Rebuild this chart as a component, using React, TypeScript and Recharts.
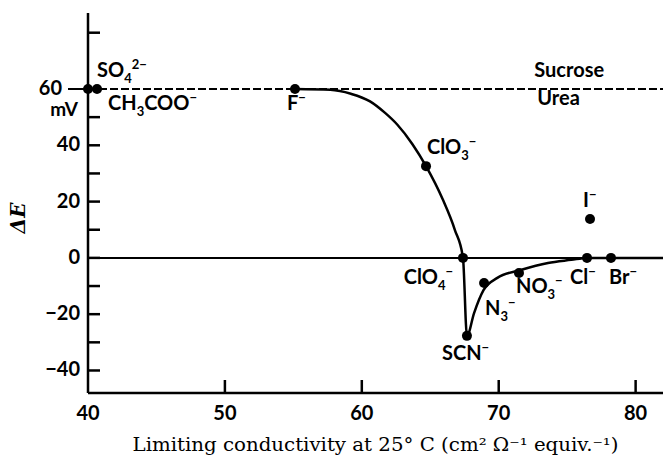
import React from "react";
import { ComposedChart, Line, Scatter, XAxis, YAxis, ReferenceLine } from "recharts";

// Ion points (ΔE vs limiting conductivity)
const ionLabels = ["CH_3COO^−", "SO_4^2−", "F^−", "ClO_3^−", "I^−", "ClO_4^−", "SCN^−", "N_3^−", "NO_3^−", "Cl^−", "Br^−"];
const ionX = [40.0, 40.66, 55.12, 64.69, 76.67, 67.39, 67.68, 68.93, 71.48, 76.45, 78.2];
const ionY = [60, 60, 60, 32.6, 13.8, 0, -27.7, -8.9, -5.4, 0, 0];

// Smooth curve through the anions
const curveX = [55.12, 57.7, 59.2, 60.6, 61.7, 62.6, 63.7, 64.69, 65.9, 66.8, 67.39, 67.68, 68.2, 68.9, 69.9, 71.6, 73.6, 75.3, 76.45, 82];
const curveY = [60, 59.7, 58.3, 55.6, 51.5, 47.3, 40.4, 32.6, 20.9, 9.9, 0, -27.7, -19.6, -11.4, -7.1, -4.3, -1.8, -0.7, 0, 0];

// Non-electrolytes on the dashed line
const neutralNames = ["Sucrose", "Urea"];
const neutralX = 72.6;
const neutralY = 60;

const xTicks = [40, 50, 60, 70, 80];
const yTicks = [-40, -30, -20, -10, 0, 10, 20, 30, 40, 50, 60, 80];
const yLabelled = [-40, -20, 0, 20, 40, 60];

const ionData = ionLabels.map((name, i) => ({ name, x: ionX[i], y: ionY[i] }));
const curveData = curveX.map((x, i) => ({ x, y: curveY[i] }));
const neutralData = [{ x: neutralX, y: neutralY }];

const SANS = "Lato, 'Noto Sans', sans-serif";
const SERIF = "'DejaVu Serif', 'Liberation Serif', serif";

// label placement (px offsets from the dot)
const labelOffset: Record<string, [number, number, "start" | "end" | "middle"]> = {
  "CH_3COO^−": [20, 14, "start"],
  "SO_4^2−": [0, -19, "start"],
  "F^−": [-8, 14, "start"],
  "ClO_3^−": [1, -19, "start"],
  "I^−": [-7, -19, "start"],
  "ClO_4^−": [-10, 19, "end"],
  "SCN^−": [-25, 17, "start"],
  "N_3^−": [1, 25, "start"],
  "NO_3^−": [-3, 13, "start"],
  "Cl^−": [-17, 19, "start"],
  "Br^−": [-2, 19, "start"],
};

function Formula({ text, x, y, anchor }: { text: string; x: number; y: number; anchor: string }) {
  const segs: { t: string; k: "n" | "b" | "p" }[] = [];
  let buf = "";
  let i = 0;
  while (i < text.length) {
    const c = text[i];
    if (c === "_") {
      if (buf) segs.push({ t: buf, k: "n" });
      buf = "";
      segs.push({ t: text[i + 1], k: "b" });
      i += 2;
    } else if (c === "^") {
      if (buf) segs.push({ t: buf, k: "n" });
      buf = "";
      segs.push({ t: text.slice(i + 1), k: "p" });
      i = text.length;
    } else {
      buf += c;
      i++;
    }
  }
  if (buf) segs.push({ t: buf, k: "n" });
  let level = 0;
  return (
    <text x={x} y={y} textAnchor={anchor as any} fontFamily={SANS} fontSize={20} fontWeight={700} fill="#000">
      {segs.map((s, j) => {
        const target = s.k === "b" ? 6 : s.k === "p" ? -8 : 0;
        const dy = target - level;
        level = target;
        return (
          <tspan key={j} dy={dy} fontSize={s.k === "n" ? 20 : 13}>
            {s.t}
          </tspan>
        );
      })}
    </text>
  );
}

const IonDot = (props: any) => {
  const { cx, cy, payload } = props;
  const off = labelOffset[payload.name] || [0, 0, "start"];
  return (
    <g>
      <circle cx={cx} cy={cy} r={5} fill="#000" />
      <Formula text={payload.name} x={cx + off[0]} y={cy + off[1] + 7} anchor={off[2]} />
    </g>
  );
};

const NeutralLabel = (props: any) => {
  const { cx, cy } = props;
  return (
    <g fontFamily={SANS} fontSize={20} fontWeight={700} fill="#000">
      <text x={cx} y={cy - 19 + 7}>{neutralNames[0]}</text>
      <text x={cx + 3} y={cy + 9 + 7}>{neutralNames[1]}</text>
    </g>
  );
};

const YTick = (props: any) => {
  const { x, y, payload } = props;
  const v = payload.value;
  return (
    <g>
      <line x1={x} x2={x + 12} y1={y} y2={y} stroke="#000" strokeWidth={2.5} />
      {v === 60 && <line x1={x - 20} x2={x} y1={y} y2={y} stroke="#000" strokeWidth={2} />}
      {yLabelled.includes(v) && (
        <text x={v === 60 ? x - 26 : x - 8} y={y + 6} textAnchor="end" fontFamily={SANS} fontSize={20} fontWeight={700} fill="#000">
          {v < 0 ? `−${-v}` : `${v}`}
        </text>
      )}
      {v === 60 && (
        <text x={x - 10} y={y + 27} textAnchor="end" fontFamily={SANS} fontSize={19} fontWeight={700} fill="#000">
          mV
        </text>
      )}
    </g>
  );
};

const XTick = (props: any) => {
  const { x, y, payload } = props;
  const v = payload.value;
  return (
    <g>
      {v !== 40 && <line x1={x} x2={x} y1={y} y2={y - 13} stroke="#000" strokeWidth={2.5} />}
      <text x={x} y={y + 27} textAnchor="middle" fontFamily={SANS} fontSize={20} fontWeight={700} fill="#000">
        {v}
      </text>
    </g>
  );
};

const XLabel = (props: any) => {
  const vb = props.viewBox;
  return (
    <text
      x={vb.x + vb.width / 2}
      y={vb.y + 58}
      textAnchor="middle"
      fontFamily={SERIF}
      fontSize={18}
      fill="#000"
      textLength={486}
      lengthAdjust="spacingAndGlyphs"
    >
      Limiting conductivity at 25° C (cm² Ω⁻¹ equiv.⁻¹)
    </text>
  );
};

const YLabel = (props: any) => {
  const vb = props.viewBox;
  const cx = vb.x - 10;
  const cy = vb.y + vb.height / 2 + 15;
  return (
    <text
      transform={`translate(${cx}, ${cy}) rotate(-90)`}
      x={0}
      y={7}
      textAnchor="middle"
      fontFamily={SERIF}
      fontStyle="italic"
      fontWeight={700}
      fontSize={20}
      fill="#000"
    >
      ΔE
    </text>
  );
};

export default function App() {
  return (
    <div style={{ position: "absolute", left: 0, top: 0, width: 663, height: 457, background: "#fff" }}>
      <ComposedChart width={663} height={457} margin={{ top: 13, right: 0, bottom: 0, left: 28 }}>
        <XAxis
          type="number"
          dataKey="x"
          domain={[40, 82]}
          ticks={xTicks}
          interval={0}
          tickSize={0}
          tickMargin={0}
          tickLine={false}
          axisLine={{ stroke: "#000", strokeWidth: 2.5 }}
          tick={<XTick />}
          height={64}
          label={<XLabel />}
        />
        <YAxis
          type="number"
          dataKey="y"
          domain={[-48, 87]}
          ticks={yTicks}
          interval={0}
          tickSize={0}
          tickMargin={0}
          tickLine={false}
          axisLine={{ stroke: "#000", strokeWidth: 2.5 }}
          tick={<YTick />}
          width={60}
          label={<YLabel />}
        />
        <ReferenceLine y={0} stroke="#000" strokeWidth={2} />
        <ReferenceLine y={60} stroke="#000" strokeWidth={2} strokeDasharray="8 3" />
        <Line
          data={curveData}
          dataKey="y"
          type="monotone"
          stroke="#000"
          strokeWidth={2.5}
          dot={false}
          activeDot={false}
          isAnimationActive={false}
        />
        <Scatter data={ionData} dataKey="y" shape={<IonDot />} isAnimationActive={false} />
        <Scatter data={neutralData} dataKey="y" shape={<NeutralLabel />} isAnimationActive={false} />
      </ComposedChart>
    </div>
  );
}
